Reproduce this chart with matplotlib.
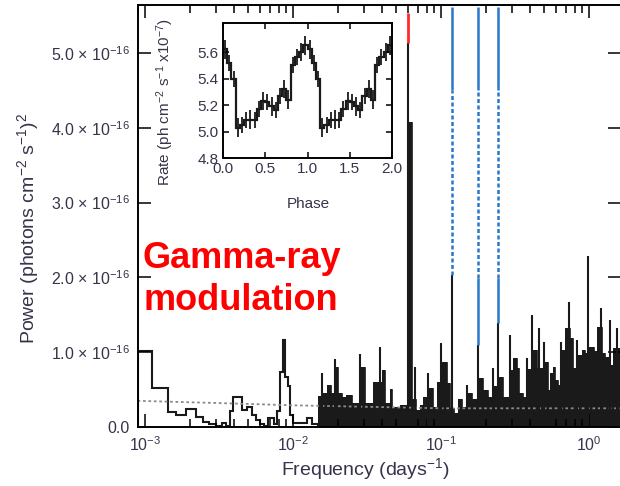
import numpy as np
import matplotlib
matplotlib.use("Agg")
import matplotlib.pyplot as plt

plt.rcParams['font.family'] = ['Liberation Sans', 'DejaVu Sans']
plt.rcParams['mathtext.fontset'] = 'custom'
plt.rcParams['mathtext.rm'] = 'Liberation Sans'
plt.rcParams['mathtext.it'] = 'Liberation Sans:italic'
plt.rcParams['mathtext.bf'] = 'Liberation Sans:bold'

# periodogram, log10 of bin left edge (days^-1) and power (1e-16)
# low frequency part, drawn as open steps
low_logf = [-3.047, -2.955, -2.847, -2.791, -2.723, -2.655, -2.610, -2.568,
            -2.520, -2.480, -2.453, -2.426, -2.403, -2.347, -2.313, -2.279,
            -2.250, -2.223, -2.196, -2.169, -2.128, -2.108, -2.088, -2.070,
            -2.053, -2.032, -2.020, -1.998, -1.905, -1.871]
low_pow = [1.02, 0.52, 0.20, 0.16, 0.24, 0.13, 0.07, 0.04,
           0.02, 0.05, 0.02, 0.22, 0.40, 0.23, 0.27, 0.16,
           0.09, 0.04, 0.02, 0.12, 0.04, 0.21, 0.74, 1.16,
           0.67, 0.55, 0.16, 0.05, 0.12, 0.04]

# high frequency part: the dense filled mass ...
mass_logf = [-1.828, -1.797, -1.770, -1.743, -1.709, -1.696, -1.669, -1.642,
             -1.601, -1.540, -1.514, -1.459, -1.400, -1.378, -1.345, -1.331,
             -1.277, -1.230, -1.196, -1.169, -1.142, -1.122, -1.092, -1.054,
             -1.029, -0.998, -0.962, -0.939, -0.914, -0.885, -0.860, -0.830,
             -0.793, -0.757, -0.740, -0.714, -0.682, -0.650, -0.608, -0.581,
             -0.535, -0.514, -0.486, -0.473, -0.446, -0.415, -0.385, -0.351,
             -0.324, -0.297, -0.277, -0.264, -0.243, -0.230, -0.209, -0.190,
             -0.162, -0.130, -0.108, -0.080, -0.047, -0.027, 0.000, 0.034,
             0.054, 0.085, 0.108, 0.140, 0.165, 0.196]
mass_pow = [0.42, 0.45, 0.56, 0.45, 0.80, 0.45, 0.40, 0.43,
            0.32, 0.80, 0.32, 0.60, 0.76, 0.32, 0.51, 0.27,
            0.30, 4.08, 0.38, 0.23, 0.30, 0.40, 0.52, 0.27,
            0.60, 0.87, 0.59, 0.25, 0.19, 0.38, 0.27, 0.45,
            0.38, 0.50, 0.66, 0.49, 0.40, 0.55, 0.67, 0.40,
            0.76, 0.92, 0.79, 0.45, 0.40, 0.78, 1.03, 0.79,
            0.79, 0.87, 0.49, 0.72, 0.80, 0.63, 0.56, 1.03,
            1.32, 1.19, 0.79, 0.96, 1.03, 0.99, 1.07, 1.02,
            1.34, 0.99, 0.94, 0.83, 1.05, 1.05]
mass_logf_end = 0.25

# ... and the narrow peaks sticking out of it
spike_logf = [-1.803, -1.718, -1.544, -1.412, -1.222, -1.175, -1.088, -0.998,
              -0.924, -0.827, -0.748, -0.647, -0.618, -0.536, -0.416, -0.385,
              -0.341, -0.305, -0.190, -0.134, -0.081, -0.004, 0.083, 0.141,
              0.186]
spike_pow = [0.72, 0.91, 0.98, 1.07, 5.13, 0.80, 0.72, 1.12,
             2.03, 0.56, 1.10, 0.79, 1.39, 1.23, 0.92, 1.50,
             1.32, 1.14, 1.14, 1.67, 1.16, 2.28, 1.59, 1.43,
             1.32]

# significance level (dotted)
noise_logf = [-3.05, -2.5, -2.0, -1.5, -1.0, 0.3]
noise_pow = [0.35, 0.32, 0.29, 0.27, 0.25, 0.25]

# orbital frequency (red) and harmonics (blue)
orb_logf = -1.222
orb_mark = [5.13, 5.53]
harm_logf = [-0.924, -0.748, -0.618]
harm_peak = [2.03, 1.10, 1.39]

# folded light curve (one cycle, 20 bins), repeated twice
rate = [5.62, 5.52, 5.40, 5.03, 5.05, 5.09, 5.09, 5.09, 5.17, 5.23,
        5.22, 5.19, 5.16, 5.27, 5.32, 5.24, 5.50, 5.56, 5.60, 5.65]
rate_err = [0.07, 0.06, 0.06, 0.07, 0.06, 0.06, 0.07, 0.06, 0.06, 0.07,
            0.06, 0.07, 0.06, 0.06, 0.07, 0.07, 0.06, 0.06, 0.07, 0.07]

ink = '#1a1a1a'
txt = '#34344a'

fig = plt.figure(figsize=(6.2, 4.86), dpi=100)
ax = fig.add_axes([138/620, 1-427/486, 483/620, 422/486])

edges_low = 10**np.array(low_logf + [mass_logf[0]])
ax.stairs(low_pow, edges_low, color=ink, lw=1.5, baseline=0)
edges_mass = 10**np.array(mass_logf + [mass_logf_end])
ax.stairs(mass_pow, edges_mass, color=ink, fill=True, baseline=0)
ax.stairs(mass_pow, edges_mass, color=ink, lw=0.6, baseline=0)
ax.vlines(10**np.array(spike_logf), 0, spike_pow, color=ink, lw=1.5)

ax.plot(10**np.array(noise_logf), noise_pow, color='#8a8a8a', lw=1.3,
        ls=(0, (1.5, 1.5)), zorder=1)

f0 = 10**orb_logf
ax.vlines(f0, orb_mark[0], orb_mark[1], color='#ff2a2a', lw=2)

top = 5.61
blue = '#2a78c8'
for lf, pk in zip(harm_logf, harm_peak):
    f = 10**lf
    ax.vlines(f, 4.5, top, color=blue, lw=1.8)
    ax.vlines(f, max(pk, 1.99), 4.5, color=blue, lw=1.8, linestyles=[(0, (1.6, 1.0))])
    if pk < 1.99:
        ax.vlines(f, pk, 1.99, color=blue, lw=1.8)

ax.set_xscale('log')
ax.set_xlim(10**-3.0473, 10**0.2162)
ax.set_ylim(0, 5.642)
ax.set_yticks([0, 1, 2, 3, 4, 5])
ax.set_yticklabels(['0.0'] + ['%d.0 × 10$^{-16}$' % k for k in range(1, 6)])
ax.set_xticks([1e-3, 1e-2, 1e-1, 1])
ax.set_xticklabels(['$10^{-3}$', '$10^{-2}$', '$10^{-1}$', '$10^{0}$'])
ax.tick_params(which='both', direction='in', top=True, right=True,
               labelcolor=txt, width=1.1)
ax.tick_params(axis='y', labelsize=11.5)
ax.tick_params(axis='x', labelsize=11.5)
ax.tick_params(which='major', length=9.5, pad=6)
ax.tick_params(which='minor', length=5.5)
for s in ax.spines.values():
    s.set_linewidth(1.4)

fig.text(365/620, 1-469/486, 'Frequency (days$^{-1}$)', ha='center', va='center',
         fontsize=14, color=txt)
fig.text(28/620, 1-228/486, 'Power (photons cm$^{-2}$ s$^{-1}$)$^2$', rotation=90,
         ha='center', va='center', fontsize=14, color=txt)

fig.text(143/620, 1-268/486, 'Gamma-ray', color='#ff0000', fontsize=26,
         fontweight='bold', ha='left', va='baseline')
fig.text(143/620, 1-310/486, 'modulation', color='#ff0000', fontsize=26,
         fontweight='bold', ha='left', va='baseline')

# inset: folded light curve
ins = fig.add_axes([223/620, 1-158/486, 169/620, 135/486])
edges_ph = np.linspace(0, 2, 41)
rate2 = rate + rate
err2 = rate_err + rate_err
ins.stairs(rate2, edges_ph, color=ink, lw=1.6, baseline=None)
centers = 0.5*(edges_ph[:-1] + edges_ph[1:])
ins.errorbar(centers, rate2, yerr=err2, fmt='none', ecolor=ink, elinewidth=1.3)
ins.set_xlim(0, 2)
ins.set_ylim(4.8, 5.82)
ins.set_xticks([0, 0.5, 1.0, 1.5, 2.0])
ins.set_xticklabels(['0.0', '0.5', '1.0', '1.5', '2.0'])
ins.set_yticks([4.8, 5.0, 5.2, 5.4, 5.6])
ins.set_yticklabels(['4.8', '5.0', '5.2', '5.4', '5.6'])
ins.tick_params(direction='in', top=True, right=True, length=4.5, width=1.1,
                labelsize=11, labelcolor=txt, pad=3)
for s in ins.spines.values():
    s.set_linewidth(1.4)
fig.text(308/620, 1-204/486, 'Phase', ha='center', va='center', fontsize=11,
         color=txt)
fig.text(165/620, 1-102/486, 'Rate (ph cm$^{-2}$ s$^{-1}$ x10$^{-7}$)', rotation=90,
         ha='center', va='center', fontsize=11, color=txt)

fig.savefig('out.png', dpi=100)
